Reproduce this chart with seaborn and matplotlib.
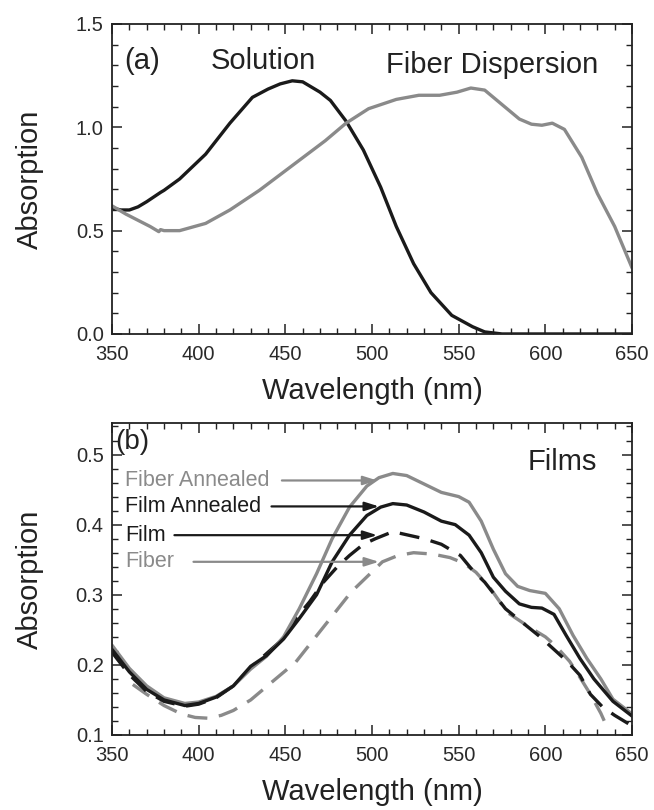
import matplotlib
matplotlib.use("Agg")
import matplotlib.pyplot as plt
import seaborn as sns
from matplotlib.ticker import MultipleLocator

# ---------------- data (panel a) ----------------
sol_wl = [350, 355, 360, 365, 370, 378, 380, 389, 404, 418, 431, 440, 447, 454, 460, 464,
          470, 476, 485, 495, 505, 514, 524, 534, 546, 558, 565, 575, 590, 620, 650]
sol_abs = [0.61, 0.60, 0.60, 0.615, 0.64, 0.685, 0.695, 0.75, 0.87, 1.02, 1.145, 1.185, 1.21,
           1.225, 1.22, 1.20, 1.17, 1.13, 1.03, 0.89, 0.71, 0.52, 0.34, 0.20, 0.09, 0.035,
           0.01, 0.0, 0.0, 0.0, 0.0]

disp_wl = [350, 358, 365, 372, 377, 378, 380, 389, 404, 418, 435, 454, 473, 485, 498, 514,
           527, 539, 549, 557, 565, 575, 585, 592, 598, 604, 611, 621, 630, 640, 650]
disp_abs = [0.62, 0.58, 0.55, 0.52, 0.495, 0.505, 0.50, 0.50, 0.535, 0.60, 0.695, 0.815,
            0.935, 1.02, 1.09, 1.135, 1.155, 1.155, 1.17, 1.19, 1.18, 1.11, 1.04, 1.015,
            1.01, 1.02, 0.99, 0.855, 0.68, 0.52, 0.32]

# ---------------- data (panel b) ----------------
fa_wl = [350, 360, 370, 380, 392, 400, 410, 420, 430, 439, 449, 458, 468, 477, 487, 497, 504,
         512, 520, 530, 540, 550, 556, 563, 570, 577, 584, 591, 600, 608, 616, 624, 632, 639, 650]
fa_abs = [0.228, 0.195, 0.17, 0.153, 0.145, 0.147, 0.155, 0.17, 0.194, 0.212, 0.24, 0.28,
          0.33, 0.38, 0.425, 0.455, 0.467, 0.473, 0.47, 0.458, 0.446, 0.44, 0.432, 0.405,
          0.365, 0.33, 0.312, 0.306, 0.302, 0.28, 0.242, 0.209, 0.18, 0.151, 0.13]

fla_wl = [350, 360, 370, 380, 392, 400, 410, 420, 430, 439, 449, 458, 468, 477, 487, 497, 505,
          512, 520, 530, 540, 548, 556, 563, 570, 577, 585, 592, 598, 605, 612, 620, 628, 639, 650]
fla_abs = [0.222, 0.19, 0.165, 0.15, 0.142, 0.145, 0.154, 0.17, 0.198, 0.213, 0.237, 0.266,
           0.30, 0.347, 0.385, 0.413, 0.425, 0.43, 0.428, 0.418, 0.405, 0.40, 0.385, 0.36,
           0.325, 0.305, 0.287, 0.282, 0.281, 0.272, 0.242, 0.209, 0.18, 0.148, 0.127]

film_wl = [350, 360, 370, 380, 392, 400, 410, 420, 430, 440, 450, 456, 464, 472, 480, 487, 495,
           502, 512, 521, 530, 540, 551, 558, 565, 577, 587, 597, 605, 613, 620, 626, 633, 640,
           646, 650]
film_abs = [0.218, 0.186, 0.162, 0.148, 0.141, 0.144, 0.153, 0.17, 0.196, 0.218, 0.24, 0.266,
            0.29, 0.318, 0.34, 0.356, 0.372, 0.38, 0.39, 0.385, 0.38, 0.372, 0.356, 0.335,
            0.318, 0.28, 0.26, 0.24, 0.222, 0.204, 0.185, 0.158, 0.14, 0.128, 0.119, 0.113]

fib_wl = [362, 370, 380, 390, 398, 405, 413, 420, 430, 442, 456, 472, 488, 506, 515, 524, 535,
          545, 553, 560, 568, 578, 590, 600, 606, 614, 620, 626, 632, 634]
fib_abs = [0.172, 0.158, 0.142, 0.13, 0.125, 0.124, 0.128, 0.135, 0.15, 0.175, 0.204, 0.254,
           0.304, 0.347, 0.356, 0.36, 0.358, 0.353, 0.345, 0.332, 0.31, 0.275, 0.255, 0.24,
           0.227, 0.205, 0.182, 0.158, 0.131, 0.12]

labels_b = ["Fiber Annealed", "Film Annealed", "Film", "Fiber"]

BLACK = "#1a1a1a"
GREY = "#8a8a8a"

sns.set_theme(style="white")
plt.rcParams["font.family"] = ["Liberation Sans", "DejaVu Sans"]
plt.rcParams["axes.edgecolor"] = "#222222"

fig = plt.figure(figsize=(6.54, 8.10), dpi=100)
ax1 = fig.add_axes([0.1713, 0.5877, 0.7951, 0.3827])
ax2 = fig.add_axes([0.1713, 0.0926, 0.7951, 0.3852])

LW = 2.4
sns.lineplot(x=sol_wl, y=sol_abs, ax=ax1, color=BLACK, lw=LW, estimator=None, sort=False)
sns.lineplot(x=disp_wl, y=disp_abs, ax=ax1, color=GREY, lw=LW, estimator=None, sort=False)

sns.lineplot(x=fib_wl, y=fib_abs, ax=ax2, color=GREY, lw=LW, estimator=None, sort=False,
             linestyle=(0, (6, 3.5)))
sns.lineplot(x=film_wl, y=film_abs, ax=ax2, color=BLACK, lw=LW, estimator=None, sort=False,
             linestyle=(0, (6, 3.5)))
sns.lineplot(x=fa_wl, y=fa_abs, ax=ax2, color=GREY, lw=LW, estimator=None, sort=False)
sns.lineplot(x=fla_wl, y=fla_abs, ax=ax2, color=BLACK, lw=LW, estimator=None, sort=False)

for ax in (ax1, ax2):
    ax.set_xlim(350, 650)
    ax.xaxis.set_major_locator(MultipleLocator(50))
    ax.xaxis.set_minor_locator(MultipleLocator(10))
    ax.tick_params(which="both", direction="in", top=True, right=True,
                   bottom=True, left=True, color="#222222")
    ax.tick_params(which="major", length=7, width=1.1, labelsize=14.5,
                   labelcolor="#2a2a2a")
    ax.tick_params(which="minor", length=4, width=1.0)
    ax.tick_params(axis="x", which="major", pad=8)
    ax.tick_params(axis="y", which="major", pad=6)
    for s in ax.spines.values():
        s.set_linewidth(1.3)
    ax.set_xlabel("Wavelength (nm)", fontsize=21, color="#222222", labelpad=9)
    ax.set_ylabel("Absorption", fontsize=21, color="#222222", labelpad=23)
    ax.grid(False)

ax1.set_ylim(0, 1.5)
ax1.yaxis.set_major_locator(MultipleLocator(0.5))
ax1.yaxis.set_minor_locator(MultipleLocator(0.1))

ax2.set_ylim(0.1, 0.545)
ax2.yaxis.set_major_locator(MultipleLocator(0.1))
ax2.yaxis.set_minor_locator(MultipleLocator(0.02))

# panel (a) annotations
ax1.text(357, 1.32, "(a)", fontsize=21, color="#222222", va="center", ha="left")
ax1.text(437, 1.32, "Solution", fontsize=21, color="#222222", va="center", ha="center")
ax1.text(569, 1.30, "Fiber Dispersion", fontsize=21, color="#222222", va="center", ha="center")

# panel (b) annotations
ax2.text(352, 0.518, "(b)", fontsize=20, color="#222222", va="center", ha="left")
ax2.text(610, 0.49, "Films", fontsize=21, color="#222222", va="center", ha="center")

label_y = [0.463, 0.426, 0.385, 0.347]
label_col = [GREY, BLACK, BLACK, GREY]
tail_x = [448, 442, 386, 397]
head_x = [503, 504, 503, 504]
for lab, yv, c, tx, hx in zip(labels_b, label_y, label_col, tail_x, head_x):
    ax2.text(357.5, yv, lab, fontsize=15.5, color=c, va="center", ha="left")
    ax2.annotate("", xy=(hx, yv), xytext=(tx, yv),
                 arrowprops=dict(arrowstyle="-|>,head_length=0.7,head_width=0.22",
                                 color=c, lw=1.6, shrinkA=0, shrinkB=0))

fig.savefig("out.png", dpi=100, facecolor="white")
